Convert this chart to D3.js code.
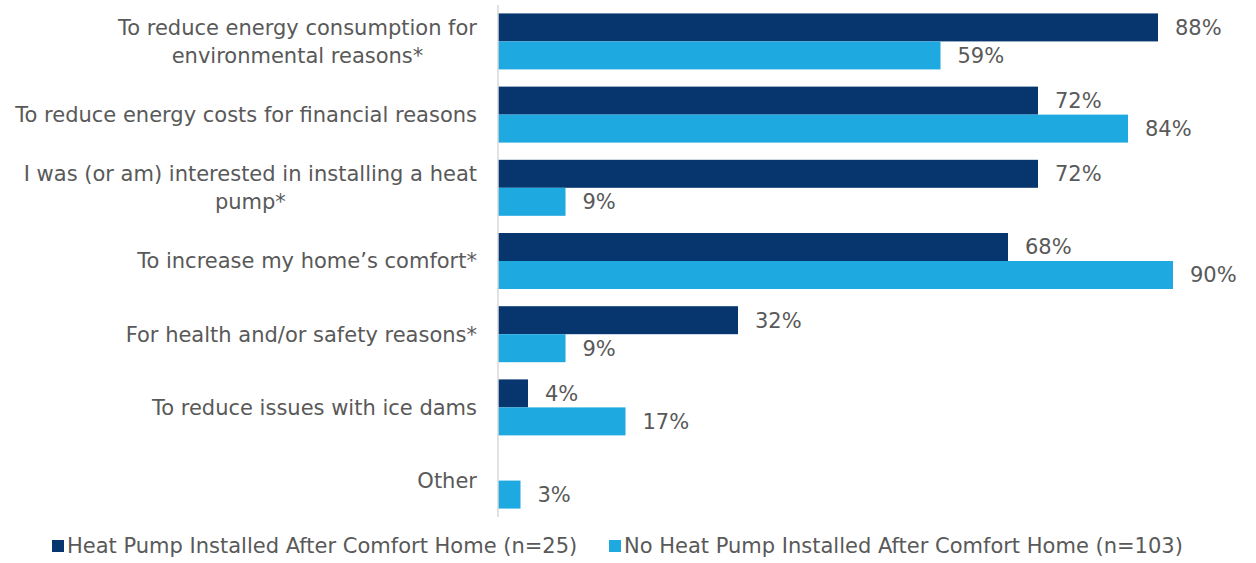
<!DOCTYPE html>
<html>
<head>
<meta charset="utf-8">
<script src="https://cdn.jsdelivr.net/npm/d3@7"></script>
<style>
  html, body { margin: 0; padding: 0; background: #ffffff; }
  svg { display: block; font-family: "DejaVu Sans", "Liberation Sans", Arial, sans-serif; }
</style>
</head>
<body>
<svg id="chart" width="1256" height="563"></svg>
<script>
// Reasons for the home upgrade, by heat pump status
const categories = [
  ["To reduce energy consumption for", "environmental reasons*"],
  ["To reduce energy costs for financial reasons"],
  ["I was (or am) interested in installing a heat", "pump*"],
  ["To increase my home\u2019s comfort*"],
  ["For health and/or safety reasons*"],
  ["To reduce issues with ice dams"],
  ["Other"]
];
const seriesNames = [
  "Heat Pump Installed After Comfort Home (n=25)",
  "No Heat Pump Installed After Comfort Home (n=103)"
];
const installedValues = [88, 72, 72, 68, 32, 4, null];
const notInstalledValues = [59, 84, 9, 90, 9, 17, 3];
const seriesColors = ["#07366f", "#1fa9e1"];

const svg = d3.select("#chart");
const plotLeft = 498, plotRight = 1248, plotTop = 5, plotBottom = 517;
const textColor = "#595959";
const fontSize = 21;

const keys = categories.map((d, i) => i);
const x = d3.scaleLinear().domain([0, 100]).range([plotLeft, plotRight]);
const y = d3.scaleBand().domain(keys).range([plotTop, plotBottom]).paddingInner(0.235).paddingOuter(0.115);
const sub = d3.scaleBand().domain([0, 1]).range([0, y.bandwidth()]);

const series = [installedValues, notInstalledValues];

const groups = svg.selectAll("g.cat").data(keys).join("g")
  .attr("class", "cat")
  .attr("transform", d => `translate(0,${y(d)})`);

series.forEach((vals, s) => {
  groups.filter(i => vals[i] != null).append("rect")
    .attr("x", x(0))
    .attr("y", sub(s))
    .attr("width", i => x(vals[i]) - x(0))
    .attr("height", sub.bandwidth())
    .attr("fill", seriesColors[s]);
  groups.filter(i => vals[i] != null).append("text")
    .attr("x", i => x(vals[i]) + 17)
    .attr("y", sub(s) + sub.bandwidth() / 2)
    .attr("dy", "0.35em")
    .attr("font-size", fontSize)
    .attr("fill", textColor)
    .text(i => vals[i] + "%");
});

// Category labels: block right aligned at the axis, wrapped lines centred in the block
const labelRight = 477;
groups.each(function(i) {
  const lines = categories[i];
  const g = d3.select(this);
  const lh = 28;
  const cy = y.bandwidth() / 2;
  const rows = lines.map((ln, k) => g.append("text")
    .attr("font-size", fontSize)
    .attr("fill", textColor)
    .attr("text-anchor", "middle")
    .attr("y", cy + (k - (lines.length - 1) / 2) * lh)
    .attr("dy", "0.35em")
    .text(ln));
  const maxW = d3.max(rows, t => t.node().getComputedTextLength());
  rows.forEach(t => t.attr("x", labelRight - maxW / 2));
});

// Vertical category axis line
svg.append("line")
  .attr("x1", x(0)).attr("x2", x(0))
  .attr("y1", plotTop).attr("y2", plotBottom)
  .attr("stroke", "#d9d9d9").attr("stroke-width", 1.5);

// Legend
const legendX = [52, 609];
const legend = svg.selectAll("g.legend").data(seriesNames).join("g")
  .attr("class", "legend")
  .attr("transform", (d, i) => `translate(${legendX[i]},546)`);
legend.append("rect")
  .attr("x", 0).attr("y", -6).attr("width", 12).attr("height", 12)
  .attr("fill", (d, i) => seriesColors[i]);
legend.append("text")
  .attr("x", 15).attr("dy", "0.35em")
  .attr("font-size", fontSize)
  .attr("fill", textColor)
  .text(d => d);
</script>
</body>
</html>
